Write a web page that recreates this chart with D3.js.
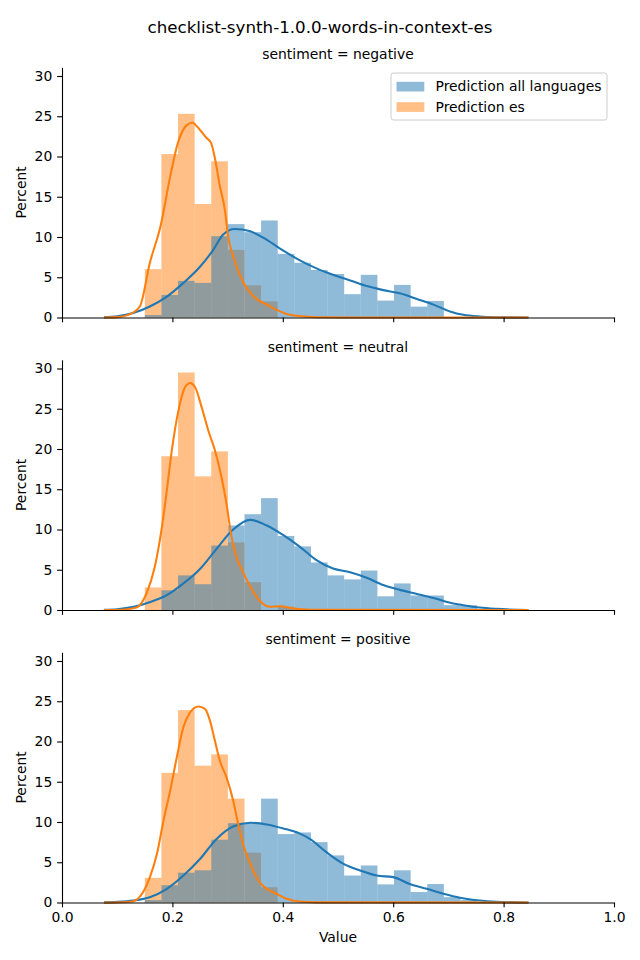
<!DOCTYPE html>
<html>
<head>
<meta charset="utf-8">
<script src="https://cdn.jsdelivr.net/npm/d3@7"></script>
<style>
  body { margin: 0; background: #fff; }
  svg { display: block; font-family: "DejaVu Sans", sans-serif; }
</style>
</head>
<body>
<div id="chart"></div>
<script>
// facet chart: histogram (percent) + kde, 3 sentiment rows

const FRAME_WIDTH = 640;
const FRAME_HEIGHT = 960;
const MARGINS = {left: 62, right: 26};
const PANEL_TOPS = [67.3, 359.8, 652.3];
const PANEL_HEIGHT = 250.2;

const TITLE = "checklist-synth-1.0.0-words-in-context-es";
const sentiments = ["negative", "neutral", "positive"];
const seriesNames = ["Prediction all languages", "Prediction es"];

// shared bin edges (value axis)
const binEdges = [0.150, 0.1801, 0.2102, 0.2403, 0.2704, 0.3005, 0.3306, 0.3607, 0.3908, 0.4209,
  0.4510, 0.4811, 0.5112, 0.5413, 0.5714, 0.6015, 0.6316, 0.6617, 0.6918, 0.7219, 0.7520];

// histogram heights (percent) per bin
const negAll = [0.3, 2.8, 4.55, 4.3, 10.1, 11.6, 10.6, 12.05, 7.9, 6.8, 5.9, 5.4, 2.9, 5.3, 2.1, 4.05, 1.35, 2.05];
const negEs  = [6.0, 20.3, 25.3, 14.1, 19.4, 8.4, 4.0, 2.0];
const neuAll = [0.0, 2.45, 4.3, 3.2, 8.0, 10.5, 11.9, 13.9, 9.2, 7.9, 5.9, 4.3, 3.8, 4.9, 1.7, 3.3, 1.8, 1.8, 0.6, 0.6];
const neuEs  = [2.8, 19.1, 29.5, 16.6, 19.7, 8.4, 3.45, 0.0, 0.4];
const posAll = [0.3, 2.15, 3.7, 4.0, 7.8, 9.85, 9.85, 12.9, 8.5, 8.7, 7.5, 5.85, 3.35, 4.6, 2.25, 4.0, 1.3, 2.3, 0.66, 0.3];
const posEs  = [3.07, 16.1, 23.9, 17.0, 18.4, 12.9, 6.2, 1.9];

// kde curves: [value, percent]
const negAllKde = [[0.076,0.02],[0.100,0.15],[0.129,0.55],[0.159,1.37],[0.190,2.6],[0.220,4.3],[0.250,6.3],[0.274,8.4],[0.292,10.3],[0.313,11.0],[0.341,10.7],[0.371,9.65],[0.401,8.3],[0.431,7.1],[0.461,6.1],[0.491,5.3],[0.522,4.6],[0.552,3.9],[0.582,3.4],[0.612,3.0],[0.643,2.3],[0.673,1.6],[0.703,0.75],[0.727,0.33],[0.757,0.12],[0.787,0.04],[0.845,0.0]];
const negEsKde = [[0.076,0.0],[0.100,0.05],[0.120,0.33],[0.141,1.37],[0.159,6.75],[0.179,11.5],[0.196,17.5],[0.210,21.7],[0.226,23.9],[0.236,24.2],[0.250,23.3],[0.262,22.3],[0.270,21.7],[0.277,19.8],[0.286,16.3],[0.295,13.4],[0.301,10.1],[0.310,7.6],[0.328,4.4],[0.347,2.6],[0.371,1.6],[0.389,0.95],[0.407,0.42],[0.430,0.18],[0.460,0.04],[0.520,0.01],[0.845,0.0]];
const neuAllKde = [[0.076,0.02],[0.100,0.1],[0.130,0.4],[0.160,1.0],[0.190,1.84],[0.220,3.3],[0.250,5.1],[0.280,7.6],[0.310,10.0],[0.341,11.2],[0.371,10.5],[0.401,9.3],[0.431,7.85],[0.461,6.2],[0.491,5.15],[0.522,4.7],[0.552,4.0],[0.582,3.1],[0.612,2.5],[0.643,2.0],[0.673,1.5],[0.703,0.9],[0.727,0.6],[0.757,0.3],[0.787,0.14],[0.845,0.0]];
const neuEsKde = [[0.076,0.0],[0.110,0.03],[0.135,0.3],[0.153,2.05],[0.168,5.35],[0.181,10.3],[0.190,14.9],[0.199,19.85],[0.211,24.8],[0.223,27.7],[0.232,28.2],[0.241,27.7],[0.253,25.2],[0.265,22.3],[0.277,19.85],[0.289,16.5],[0.298,13.2],[0.307,9.1],[0.316,6.6],[0.328,4.7],[0.341,2.9],[0.359,1.1],[0.377,0.4],[0.395,0.47],[0.419,0.2],[0.450,0.02],[0.845,0.0]];
const posAllKde = [[0.076,0.02],[0.100,0.08],[0.129,0.25],[0.159,0.66],[0.190,1.7],[0.220,3.35],[0.250,5.4],[0.280,7.9],[0.310,9.45],[0.341,9.9],[0.371,9.7],[0.401,9.2],[0.431,8.55],[0.449,7.9],[0.479,6.25],[0.510,4.8],[0.540,3.98],[0.570,3.35],[0.600,3.15],[0.630,2.3],[0.661,1.7],[0.691,1.1],[0.721,0.6],[0.757,0.25],[0.787,0.1],[0.845,0.0]];
const posEsKde = [[0.076,0.0],[0.110,0.03],[0.129,0.16],[0.147,1.3],[0.159,3.1],[0.172,6.05],[0.184,10.2],[0.196,13.9],[0.208,18.05],[0.220,21.8],[0.232,23.6],[0.247,24.35],[0.259,24.05],[0.268,22.6],[0.277,20.1],[0.286,17.6],[0.298,15.55],[0.310,12.7],[0.319,9.8],[0.328,7.3],[0.341,4.8],[0.356,2.7],[0.371,1.7],[0.389,1.08],[0.407,0.46],[0.430,0.12],[0.460,0.02],[0.845,0.0]];

const xTicks = [0.0, 0.2, 0.4, 0.6, 0.8, 1.0];
const yTicks = [0, 5, 10, 15, 20, 25, 30];

const panels = [
  {name: sentiments[0], all: negAll, es: negEs, allKde: negAllKde, esKde: negEsKde},
  {name: sentiments[1], all: neuAll, es: neuEs, allKde: neuAllKde, esKde: neuEsKde},
  {name: sentiments[2], all: posAll, es: posEs, allKde: posAllKde, esKde: posEsKde}
];

const BLUE = "#1f77b4";
const ORANGE = "#ff7f0e";
const FONT = 13.9;

const VIS_WIDTH = FRAME_WIDTH - MARGINS.left - MARGINS.right;

const svg = d3.select("#chart")
  .append("svg")
    .attr("width", FRAME_WIDTH)
    .attr("height", FRAME_HEIGHT);

const X_SCALE = d3.scaleLinear().domain([0, 1]).range([0, VIS_WIDTH]);
const Y_SCALE = d3.scaleLinear().domain([0, 31.08]).range([PANEL_HEIGHT, 0]);

svg.append("text")
  .attr("x", FRAME_WIDTH / 2)
  .attr("y", 33)
  .attr("text-anchor", "middle")
  .attr("font-size", 16.7)
  .text(TITLE);

const line = d3.line()
  .x(d => X_SCALE(d[0]))
  .y(d => Y_SCALE(d[1]))
  .curve(d3.curveMonotoneX);

function drawBars(g, values, color) {
  g.append("g")
    .selectAll("rect")
    .data(values)
    .enter()
    .append("rect")
      .attr("x", (d, i) => X_SCALE(binEdges[i]))
      .attr("width", (d, i) => X_SCALE(binEdges[i + 1]) - X_SCALE(binEdges[i]))
      .attr("y", d => Y_SCALE(d))
      .attr("height", d => PANEL_HEIGHT - Y_SCALE(d))
      .attr("fill", color)
      .attr("fill-opacity", 0.5);
}

panels.forEach((p, idx) => {
  const g = svg.append("g")
    .attr("transform", "translate(" + MARGINS.left + "," + PANEL_TOPS[idx] + ")");

  // orange drawn first, blue layered on top (gives the grey overlap)
  drawBars(g, p.es, ORANGE);
  drawBars(g, p.all, BLUE);

  g.append("path")
    .datum(p.allKde)
    .attr("d", line)
    .attr("fill", "none")
    .attr("stroke", BLUE)
    .attr("stroke-width", 2.08);

  g.append("path")
    .datum(p.esKde)
    .attr("d", line)
    .attr("fill", "none")
    .attr("stroke", ORANGE)
    .attr("stroke-width", 2.08);

  // axes
  const xAxis = d3.axisBottom(X_SCALE)
    .tickValues(xTicks)
    .tickSizeInner(4.86)
    .tickSizeOuter(0)
    .tickPadding(4.86)
    .tickFormat(idx === 2 ? d3.format(".1f") : "");
  const gx = g.append("g")
    .attr("transform", "translate(0," + PANEL_HEIGHT + ")")
    .call(xAxis);

  const yAxis = d3.axisLeft(Y_SCALE)
    .tickValues(yTicks)
    .tickSizeInner(4.86)
    .tickSizeOuter(0)
    .tickPadding(4.86);
  const gy = g.append("g").call(yAxis);

  [gx, gy].forEach(a => {
    a.attr("font-size", FONT).attr("font-family", "DejaVu Sans, sans-serif");
    a.selectAll("path.domain").attr("stroke", "#000").attr("stroke-width", 1.1);
    a.selectAll(".tick line").attr("stroke", "#000").attr("stroke-width", 1.1);
    a.selectAll(".tick text").attr("fill", "#000");
  });

  g.append("text")
    .attr("x", VIS_WIDTH / 2)
    .attr("y", -8.3)
    .attr("text-anchor", "middle")
    .attr("font-size", FONT)
    .text("sentiment = " + p.name);

  g.append("text")
    .attr("transform", "translate(" + (26 - MARGINS.left) + "," + (PANEL_HEIGHT / 2) + ") rotate(-90)")
    .attr("text-anchor", "middle")
    .attr("font-size", FONT)
    .text("Percent");

  if (idx === 2) {
    g.append("text")
      .attr("x", VIS_WIDTH / 2)
      .attr("y", PANEL_HEIGHT + 40)
      .attr("text-anchor", "middle")
      .attr("font-size", FONT)
      .text("Value");
  }
});

// legend in first panel
const legend = svg.append("g").attr("transform", "translate(391,73)");
legend.append("rect")
  .attr("width", 216)
  .attr("height", 47)
  .attr("rx", 2.5)
  .attr("fill", "#fff")
  .attr("fill-opacity", 0.8)
  .attr("stroke", "#cccccc")
  .attr("stroke-width", 1);

seriesNames.forEach((name, i) => {
  legend.append("rect")
    .attr("x", 5.5)
    .attr("y", 8.8 + i * 20.4)
    .attr("width", 27.8)
    .attr("height", 9.7)
    .attr("fill", i === 0 ? BLUE : ORANGE)
    .attr("fill-opacity", 0.5);
  legend.append("text")
    .attr("x", 44.5)
    .attr("y", 18.3 + i * 20.4)
    .attr("font-size", FONT)
    .text(name);
});
</script>
</body>
</html>
